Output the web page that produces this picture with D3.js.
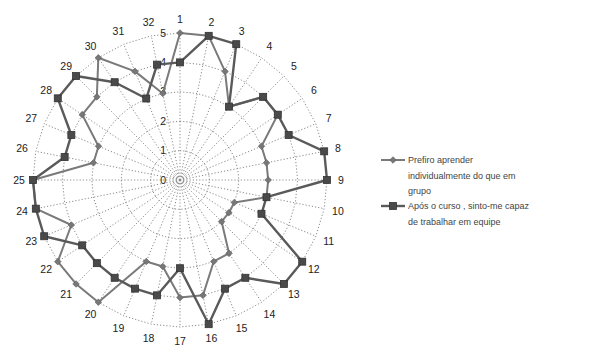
<!DOCTYPE html>
<html>
<head>
<meta charset="utf-8">
<script src="https://cdn.jsdelivr.net/npm/d3@7"></script>
<style>
  body { margin: 0; background: #fff; }
  text { font-family: "Liberation Sans", Arial, sans-serif; }
</style>
</head>
<body>
<svg id="chart" width="608" height="348"></svg>
<script>
// Statements (axes of the radar)
const categories = ["1","2","3","4","5","6","7","8","9","10","11","12","13","14","15","16",
                    "17","18","19","20","21","22","23","24","25","26","27","28","29","30","31","32"];
// Radial tick labels
const tickValues = [0, 1, 2, 3, 4, 5];
// Series names and scores
const seriesNames = ["Prefiro aprender individualmente do que em grupo",
                     "Após o curso , sinto-me capaz de trabalhar em equipe"];
const prefiroValues = [5, 5, 4, 3, 4, 4, 3, 3, 3, 3, 2, 2, 2, 3, 3, 4,
                       4, 3, 3, 5, 5, 5, 4, 5, 5, 3, 3, 4, 4, 5, 4, 3];
const aposValues    = [4, 5, 5, 3, 4, 4, 4, 5, 5, 3, 3, 5, 5, 4, 4, 5,
                       3, 4, 4, 4, 4, 4, 5, 5, 5, 4, 4, 5, 5, 4, 3, 4];
// Legend text, wrapped as shown
const legendLines = [["Prefiro aprender", "individualmente do que em", "grupo"],
                     ["Após o curso , sinto-me capaz", "de trabalhar em equipe"]];

const svg = d3.select("#chart");
const cx = 180, cy = 180, R = 147;

const rScale = d3.scaleLinear().domain([0, 5]).range([0, R]);
const aScale = d3.scaleBand().domain(categories).range([0, 2 * Math.PI]);

const g = svg.append("g").attr("transform", `translate(${cx},${cy})`);

const px = (c, v) => rScale(v) * Math.sin(aScale(c));
const py = (c, v) => -rScale(v) * Math.cos(aScale(c));

// Grid rings (polygons)
const ringLine = d3.lineRadial()
  .angle(c => aScale(c))
  .curve(d3.curveLinearClosed);
g.append("g").selectAll("path").data(tickValues.filter(t => t > 0)).join("path")
  .attr("d", t => ringLine.radius(rScale(t))(categories))
  .attr("fill", "none")
  .attr("stroke", "#8a8a8a")
  .attr("stroke-width", 1)
  .attr("stroke-dasharray", "1.2,2");

// Spokes
g.append("g").selectAll("line").data(categories).join("line")
  .attr("x1", 0).attr("y1", 0)
  .attr("x2", c => px(c, 5)).attr("y2", c => py(c, 5))
  .attr("stroke", "#8a8a8a")
  .attr("stroke-width", 1)
  .attr("stroke-dasharray", "1.2,2");

// Radial tick labels
g.append("g").selectAll("text").data(tickValues).join("text")
  .attr("x", -14)
  .attr("y", t => -rScale(t))
  .attr("dy", "0.35em")
  .attr("text-anchor", "end")
  .attr("font-size", 10.5)
  .attr("fill", "#222")
  .text(t => t);

// Category labels
const labelR = rScale(5) + 14;
g.append("g").selectAll("text").data(categories).join("text")
  .attr("x", c => labelR * Math.sin(aScale(c)))
  .attr("y", c => -labelR * Math.cos(aScale(c)))
  .attr("dy", "0.35em")
  .attr("text-anchor", "middle")
  .attr("font-size", 10.5)
  .attr("fill", "#222")
  .text(c => c);

const seriesStyles = [
  { values: prefiroValues, stroke: "#7a7a7a", width: 2, marker: "diamond", mfill: "#777", msize: 5 },
  { values: aposValues,    stroke: "#5a5a5a", width: 2.4, marker: "square", mfill: "#4a4a4a", msize: 7 }
];

const lineGen = d3.lineRadial()
  .angle((d, i) => aScale(categories[i]))
  .radius(d => rScale(d))
  .curve(d3.curveLinearClosed);

function drawMarker(sel, s) {
  if (s.marker === "square") {
    sel.append("rect")
      .attr("x", -s.msize / 2).attr("y", -s.msize / 2)
      .attr("width", s.msize).attr("height", s.msize)
      .attr("fill", s.mfill)
      .attr("stroke", "#333").attr("stroke-width", 0.8);
  } else {
    const h = s.msize / 2 + 0.8;
    sel.append("path")
      .attr("d", `M0,${-h}L${h},0L0,${h}L${-h},0Z`)
      .attr("fill", s.mfill)
      .attr("stroke", "#5c5c5c").attr("stroke-width", 0.6);
  }
}

seriesStyles.forEach(s => {
  g.append("path")
    .attr("d", lineGen(s.values))
    .attr("fill", "none")
    .attr("stroke", s.stroke)
    .attr("stroke-width", s.width)
    .attr("stroke-linejoin", "round");
});
seriesStyles.forEach(s => {
  g.append("g").selectAll("g").data(s.values).join("g")
    .attr("transform", (v, i) => `translate(${px(categories[i], v)},${py(categories[i], v)})`)
    .each(function () { drawMarker(d3.select(this), s); });
});

// Legend
const legend = svg.append("g").attr("transform", "translate(381,160)");
const entryY = [0, 46];
seriesStyles.forEach((s, k) => {
  const e = legend.append("g").attr("transform", `translate(0,${entryY[k]})`)
    .attr("aria-label", seriesNames[k]);
  e.append("line").attr("x1", 0).attr("x2", 24).attr("y1", 0).attr("y2", 0)
    .attr("stroke", s.stroke).attr("stroke-width", s.width);
  drawMarker(e.append("g").attr("transform", "translate(12,0)"), s);
  e.selectAll("text").data(legendLines[k]).join("text")
    .attr("x", 27)
    .attr("y", (d, i) => i * 15.5)
    .attr("dy", "0.35em")
    .attr("font-size", 9)
    .attr("fill", "#444")
    .text(d => d);
});
</script>
</body>
</html>
